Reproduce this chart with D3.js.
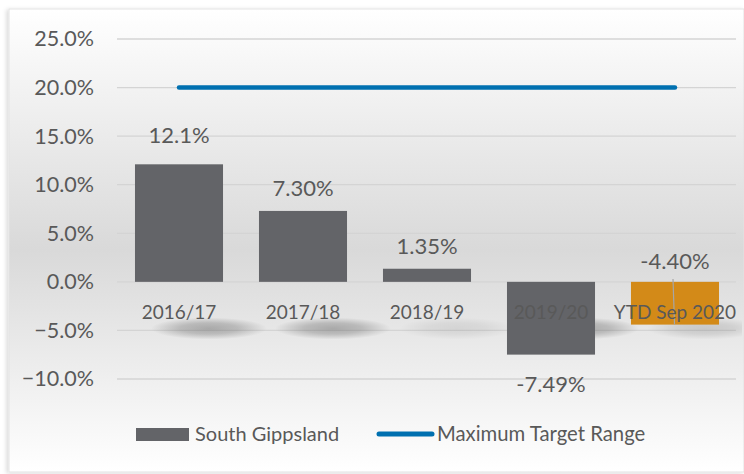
<!DOCTYPE html>
<html>
<head>
<meta charset="utf-8">
<script src="https://cdn.jsdelivr.net/npm/d3@7"></script>
<style>
  body { margin: 0; background: #fff; }
  text { font-family: Lato, "Open Sans", sans-serif; fill: #595959; }
</style>
</head>
<body>
<div id="graph"></div>
<script>
// chart data
const categories = ["2016/17", "2017/18", "2018/19", "2019/20", "YTD Sep 2020"];
const values = [12.1, 7.3, 1.35, -7.49, -4.4];
const valueLabels = ["12.1%", "7.30%", "1.35%", "-7.49%", "-4.40%"];
const targetValue = 20;
const yTicks = [-10, -5, 0, 5, 10, 15, 20, 25];
const seriesNames = ["South Gippsland", "Maximum Target Range"];

const WIDTH = 744;
const HEIGHT = 474;
const BAR = "#636468";
const ORANGE = "#D38A18";
const BLUE = "#0070B0";

const svg = d3.select("#graph").append("svg")
  .attr("width", WIDTH)
  .attr("height", HEIGHT);

const defs = svg.append("defs");
const grad = defs.append("linearGradient")
  .attr("id", "bg").attr("x1", 0).attr("y1", 0).attr("x2", 0).attr("y2", 1);
grad.append("stop").attr("offset", "0%").attr("stop-color", "#ffffff");
grad.append("stop").attr("offset", "52%").attr("stop-color", "#d9d9d9");
grad.append("stop").attr("offset", "100%").attr("stop-color", "#ffffff");

// soft blob used for the label shadows
const blob = defs.append("radialGradient").attr("id", "blob");
blob.append("stop").attr("offset", "0%").attr("stop-color", "#555").attr("stop-opacity", 0.42);
blob.append("stop").attr("offset", "50%").attr("stop-color", "#555").attr("stop-opacity", 0.3);
blob.append("stop").attr("offset", "100%").attr("stop-color", "#555").attr("stop-opacity", 0);

defs.append("filter").attr("id", "frameShadow")
  .append("feDropShadow").attr("dx", -2).attr("dy", 1)
  .attr("stdDeviation", 2).attr("flood-color", "#000").attr("flood-opacity", 0.15);

defs.append("clipPath").attr("id", "frameClip")
  .append("rect").attr("x", 9).attr("y", 9).attr("width", WIDTH - 11).attr("height", 463);

// frame with gradient fill
svg.append("rect")
  .attr("x", 9).attr("y", 9)
  .attr("width", WIDTH - 9).attr("height", 463)
  .attr("fill", "url(#bg)")
  .attr("stroke", "#e3e3e3")
  .attr("filter", "url(#frameShadow)");

const x = d3.scaleBand()
  .domain(categories)
  .range([117, 737])
  .paddingInner(0.29)
  .paddingOuter(0.145);

const y = d3.scaleLinear().domain([-10, 25]).range([379, 39]);

// gridlines
svg.append("g").selectAll("line")
  .data(yTicks)
  .join("line")
  .attr("x1", 117).attr("x2", 736)
  .attr("y1", d => y(d)).attr("y2", d => y(d))
  .attr("stroke", "#d4d4d4")
  .attr("stroke-width", 1.3);

// y axis labels
const yAxis = d3.axisLeft(y).tickValues(yTicks).tickSize(0).tickPadding(0)
  .tickFormat(d => d3.format(".1f")(d) + "%");
svg.append("g")
  .attr("transform", "translate(94,0)")
  .call(yAxis)
  .call(g => g.select(".domain").remove())
  .call(g => g.selectAll("text")
    .attr("font-family", "Lato, sans-serif")
    .attr("font-size", 21.5)
    .attr("fill", "#595959"));

// soft shadows under the category labels (drawn behind bars)
svg.append("g")
  .attr("clip-path", "url(#frameClip)")
  .selectAll("ellipse")
  .data(categories)
  .join("ellipse")
  .attr("cx", d => x(d) + x.bandwidth() / 2 + 30)
  .attr("cy", y(-4.8))
  .attr("rx", x.bandwidth() / 2 + 14)
  .attr("ry", 11)
  .attr("fill", "url(#blob)")
  .attr("opacity", (d, i) => i === 2 ? 0.3 : i === 4 ? 0.5 : 1);

// bars
svg.append("g").selectAll("rect")
  .data(values)
  .join("rect")
  .attr("x", (d, i) => x(categories[i]))
  .attr("width", x.bandwidth())
  .attr("y", d => y(Math.max(0, d)))
  .attr("height", d => Math.abs(y(d) - y(0)))
  .attr("fill", (d, i) => i === values.length - 1 ? ORANGE : BAR);

// leader line for last label
const lastCat = categories[categories.length - 1];
svg.append("line")
  .attr("x1", x(lastCat) + x.bandwidth() / 2 - 2)
  .attr("x2", x(lastCat) + x.bandwidth() / 2 - 0.5)
  .attr("y1", y(0.3))
  .attr("y2", y(values[values.length - 1]))
  .attr("stroke", "#a6a6a6")
  .attr("stroke-width", 1.2);

// target line
svg.append("line")
  .attr("x1", x(categories[0]) + x.bandwidth() / 2)
  .attr("x2", x(lastCat) + x.bandwidth() / 2)
  .attr("y1", y(targetValue)).attr("y2", y(targetValue))
  .attr("stroke", BLUE)
  .attr("stroke-width", 4.5)
  .attr("stroke-linecap", "round");

// category labels
svg.append("g").selectAll("text")
  .data(categories)
  .join("text")
  .attr("x", d => x(d) + x.bandwidth() / 2)
  .attr("y", 319)
  .attr("text-anchor", "middle")
  .attr("font-size", 19)
  .text(d => d);

// data labels
const labelOffsets = [
  v => y(v) - 21,
  v => y(v) - 15,
  v => y(v) - 15,
  v => y(v) + 37,
  v => y(0) - 13
];
svg.append("g").selectAll("text")
  .data(values)
  .join("text")
  .attr("x", (d, i) => x(categories[i]) + x.bandwidth() / 2)
  .attr("y", (d, i) => labelOffsets[i](d))
  .attr("text-anchor", "middle")
  .attr("font-size", 22)
  .text((d, i) => valueLabels[i]);

// legend
const legend = svg.append("g");
legend.append("rect")
  .attr("x", 136).attr("y", 428).attr("width", 53).attr("height", 13)
  .attr("fill", BAR);
legend.append("text")
  .attr("x", 195).attr("y", 441)
  .attr("font-size", 20)
  .text(seriesNames[0]);
legend.append("line")
  .attr("x1", 379).attr("x2", 432).attr("y1", 434).attr("y2", 434)
  .attr("stroke", BLUE).attr("stroke-width", 5).attr("stroke-linecap", "round");
legend.append("text")
  .attr("x", 437).attr("y", 441)
  .attr("font-size", 20.3)
  .text(seriesNames[1]);
</script>
</body>
</html>
